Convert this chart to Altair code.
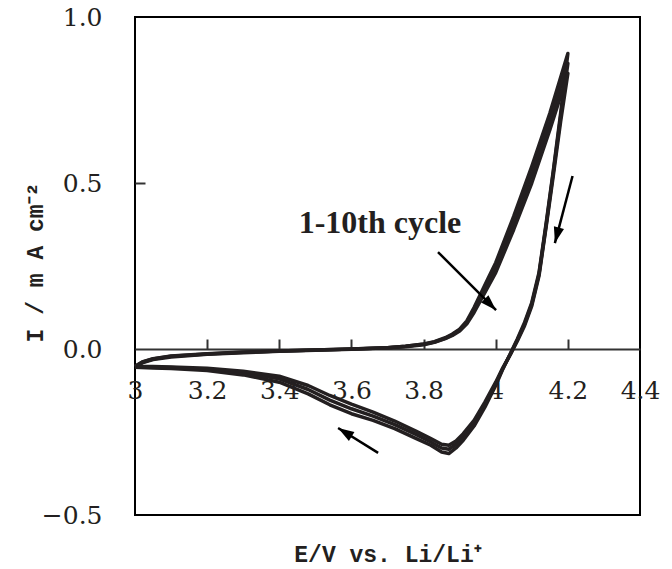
import math
import altair as alt
import pandas as pd

# ---------------- data ----------------
# forward (anodic) sweep potentials, V
fwd_E = [3.0, 3.02, 3.05, 3.1, 3.2, 3.3, 3.4, 3.5, 3.6, 3.7, 3.75, 3.8, 3.83, 3.86,
         3.88, 3.9, 3.92, 3.94, 3.96, 3.98, 4.0, 4.05, 4.1, 4.15, 4.2]
# reverse (cathodic) sweep potentials, V
rev_E = [4.2, 4.18, 4.16, 4.14, 4.12, 4.1, 4.08, 4.06, 4.04, 4.02, 4.0, 3.97, 3.94,
         3.91, 3.89, 3.87, 3.85, 3.82, 3.78, 3.72, 3.66, 3.6, 3.54, 3.48, 3.4, 3.3,
         3.2, 3.1, 3.05, 3.0]

# current densities, mA cm-2 (three representative cycles of the 10)
c1_fwd = [-0.055, -0.042, -0.032, -0.024, -0.016, -0.011, -0.007, -0.004, -0.001, 0.004,
          0.008, 0.015, 0.022, 0.034, 0.045, 0.060, 0.085, 0.125, 0.170, 0.215, 0.260,
          0.400, 0.550, 0.710, 0.890]
c1_rev = [0.890, 0.710, 0.540, 0.380, 0.230, 0.140, 0.080, 0.030, -0.015, -0.060, -0.110,
          -0.175, -0.232, -0.275, -0.298, -0.315, -0.310, -0.290, -0.270, -0.240, -0.215,
          -0.195, -0.168, -0.135, -0.100, -0.078, -0.065, -0.059, -0.057, -0.055]

c2_fwd = [-0.053, -0.040, -0.030, -0.022, -0.015, -0.010, -0.006, -0.003, 0.000, 0.004,
          0.008, 0.014, 0.021, 0.032, 0.043, 0.057, 0.080, 0.118, 0.160, 0.203, 0.245,
          0.380, 0.525, 0.685, 0.860]
c2_rev = [0.860, 0.700, 0.535, 0.375, 0.225, 0.135, 0.075, 0.027, -0.017, -0.058, -0.105,
          -0.168, -0.225, -0.265, -0.287, -0.302, -0.298, -0.280, -0.258, -0.228, -0.202,
          -0.180, -0.154, -0.122, -0.090, -0.072, -0.061, -0.056, -0.055, -0.054]

c3_fwd = [-0.052, -0.039, -0.029, -0.021, -0.014, -0.009, -0.006, -0.003, 0.000, 0.004,
          0.007, 0.013, 0.020, 0.031, 0.041, 0.054, 0.076, 0.110, 0.150, 0.190, 0.230,
          0.360, 0.500, 0.660, 0.830]
c3_rev = [0.830, 0.685, 0.525, 0.370, 0.220, 0.130, 0.070, 0.024, -0.018, -0.056, -0.100,
          -0.160, -0.215, -0.255, -0.277, -0.290, -0.287, -0.270, -0.248, -0.217, -0.190,
          -0.166, -0.140, -0.110, -0.082, -0.067, -0.058, -0.054, -0.053, -0.052]

x_ticks = [3.0, 3.2, 3.4, 3.6, 3.8, 4.0, 4.2, 4.4]
y_ticks = [-0.5, 0.0, 0.5, 1.0]

# annotation arrows: start (E, I) -> tip (E, I)
arrow_E0 = [3.840, 4.213, 3.674]
arrow_I0 = [0.292, 0.521, -0.313]
arrow_E1 = [4.001, 4.164, 3.563]
arrow_I1 = [0.117, 0.319, -0.238]

label_text = ["1-10th cycle"]
label_E = [3.679]
label_I = [0.349]

# ---------------- build tables ----------------
W, H = 505, 498
XDOM, YDOM = [3.0, 4.4], [-0.5, 1.0]

rows = []
for name, f, r in [("1", c1_fwd, c1_rev), ("5", c2_fwd, c2_rev), ("10", c3_fwd, c3_rev)]:
    seq = list(zip(fwd_E, f)) + list(zip(rev_E, r))
    for k, (e, i) in enumerate(seq):
        rows.append({"cycle": name, "E": e, "I": i, "k": k})
df = pd.DataFrame(rows)

px_per_E = W / (XDOM[1] - XDOM[0])
px_per_I = H / (YDOM[1] - YDOM[0])
angles = []
for e0, i0, e1, i1 in zip(arrow_E0, arrow_I0, arrow_E1, arrow_I1):
    dx = (e1 - e0) * px_per_E
    dy = -(i1 - i0) * px_per_I
    angles.append(math.degrees(math.atan2(dx, -dy)) % 360)
arrows = pd.DataFrame({"E0": arrow_E0, "I0": arrow_I0, "E1": arrow_E1, "I1": arrow_I1,
                       "ang": angles})
labels = pd.DataFrame({"t": label_text, "E": label_E, "I": label_I})

INK = "#231f20"
NUMFONT = "DejaVu Serif"
TITLEFONT = "Liberation Mono"

xs = alt.Scale(domain=XDOM, nice=False, zero=False)
ys = alt.Scale(domain=YDOM, nice=False, zero=False)

zero_offset = -(YDOM[1] - 0.0) * px_per_I  # y position of I = 0 from top

lines = alt.Chart(df).mark_line(color=INK, strokeWidth=3.5, strokeJoin="round").encode(
    x=alt.X("E:Q", scale=xs, axis=alt.Axis(
        orient="bottom", offset=-(H + zero_offset), values=x_ticks, format="~f",
        ticks=False, tickSize=0, grid=False, domain=True, domainColor="#333333",
        domainWidth=2, labelFont=NUMFONT, labelFontSize=25, labelColor=INK,
        labelPadding=41, labelBaseline="middle", labelFlush=False, labelOverlap=False,
        labelBound=False, title="E/V vs. Li/Li⁺", titleFont=TITLEFONT, titleFontSize=23,
        titleFontWeight="bold", titleColor=INK, titleY=212, titleBaseline="alphabetic")),
    y=alt.Y("I:Q", scale=ys, axis=alt.Axis(
        orient="left", values=y_ticks, format=".1f", ticks=False, tickSize=0, grid=False,
        domain=False, labelFont=NUMFONT, labelFontSize=25, labelColor=INK, labelPadding=33,
        labelBaseline="middle", labelFlush=False, labelOverlap=False, labelBound=False,
        title="I / m A cm⁻²", titleFont=TITLEFONT, titleFontSize=23,
        titleFontWeight="bold", titleColor=INK, titleAngle=270, titleX=-93, titleY=245,
        titleAlign="center", titleBaseline="alphabetic")),
    detail="cycle:N",
    order="k:Q",
)

rules = alt.Chart(arrows).mark_rule(color="black", strokeWidth=2.5).encode(
    x=alt.X("E0:Q", scale=xs, axis=alt.Axis(
        orient="top", offset=zero_offset, values=x_ticks[1:-1], ticks=True, tickSize=10,
        tickWidth=2, tickColor="#333333", labels=False, domain=False, grid=False, title=None)),
    y=alt.Y("I0:Q", scale=ys, axis=alt.Axis(
        orient="right", offset=-W, values=[0.5], ticks=True, tickSize=10, tickWidth=2,
        tickColor="#333333", labels=False, domain=False, grid=False, title=None)),
    x2="E1:Q",
    y2="I1:Q",
)

heads = alt.Chart(arrows).mark_point(
    shape="M0,0L0.65,2L-0.65,2Z", filled=True, size=256, color="black", opacity=1,
    strokeWidth=0,
).encode(
    x=alt.X("E1:Q", scale=xs, axis=None),
    y=alt.Y("I1:Q", scale=ys, axis=None),
    angle=alt.Angle("ang:Q", scale=None),
)

text = alt.Chart(labels).mark_text(
    font="Liberation Serif", fontSize=32, fontWeight="bold", color=INK, align="center",
    baseline="alphabetic",
).encode(
    x=alt.X("E:Q", scale=xs, axis=None),
    y=alt.Y("I:Q", scale=ys, axis=None),
    text="t:N",
)

chart = alt.layer(lines, rules, heads, text).resolve_axis(
    x="independent", y="independent"
).properties(
    width=W, height=H, autosize=alt.AutoSizeParams(type="none"),
    padding={"left": 135, "top": 17, "right": 32, "bottom": 54},
    background="white",
).configure_view(stroke="black", strokeWidth=2)

chart.save("out.html", embed_options={"renderer": "svg", "actions": False})
